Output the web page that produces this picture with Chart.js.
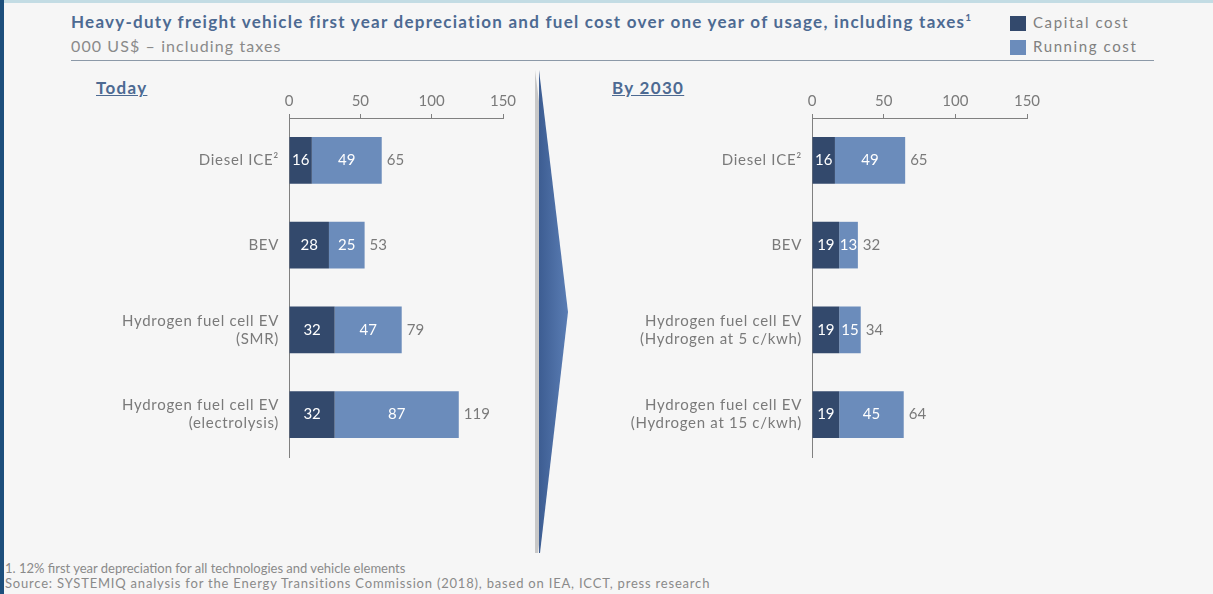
<!DOCTYPE html>
<html>
<head>
<meta charset="utf-8">
<script src="https://cdn.jsdelivr.net/npm/chart.js@4.4.1/dist/chart.umd.min.js"></script>
<style>
  html, body { margin: 0; padding: 0; }
  body {
    width: 1213px; height: 594px; position: relative; overflow: hidden;
    background: #f6f6f6; font-family: "Lato", sans-serif;
  }
  .topbar { position: absolute; left: 0; top: 0; width: 1213px; height: 3px; background: #c3dce4; }
  .leftbar { position: absolute; left: 0; top: 0; width: 4px; height: 594px; background: #1d4f7c; }
  .title { position: absolute; left: 71px; top: 11px; font-size: 17px; font-weight: bold; color: #4d6a92; white-space: nowrap; letter-spacing: 1.25px; }
  .title sup { font-size: 10px; letter-spacing: 0; }
  .subtitle { position: absolute; left: 71px; top: 36px; font-size: 16px; color: #8a8a8a; letter-spacing: 1.1px; }
  .rule { position: absolute; left: 71px; top: 60px; width: 1083px; height: 0; border-top: 1.5px solid #8c99a8; }
  .legend { position: absolute; left: 1010px; font-size: 15px; color: #808080; letter-spacing: 1.6px; white-space: nowrap; }
  .legend i { display: inline-block; width: 16px; height: 15px; vertical-align: -3px; margin-right: 7px; }
  .panel { position: absolute; font-size: 17px; font-weight: bold; color: #4d6a92; text-decoration: underline; letter-spacing: 1.3px; }
  .note { position: absolute; left: 5px; font-size: 13px; color: #8a8a8a; white-space: nowrap; }
  .box { position: absolute; }
</style>
</head>
<body>
<div class="topbar"></div>
<div class="leftbar"></div>
<div class="title">Heavy-duty freight vehicle first year depreciation and fuel cost over one year of usage, including taxes<sup>1</sup></div>
<div class="subtitle">000 US$ – including taxes</div>
<div class="rule"></div>
<div class="legend" style="top:13px"><i style="background:#33496c"></i>Capital cost</div>
<div class="legend" style="top:37px"><i style="background:#6b8cbb"></i>Running cost</div>
<div class="panel" style="left:96px;top:77px">Today</div>
<div class="panel" style="left:612px;top:77px">By 2030</div>

<svg style="position:absolute;left:0;top:0" width="1213" height="594">
  <defs>
    <linearGradient id="arr" x1="0" y1="0" x2="1" y2="0">
      <stop offset="0" stop-color="#3d5d92"/>
      <stop offset="1" stop-color="#5a7db4"/>
    </linearGradient>
  </defs>
  <polygon points="537,70 568,312 540,553 537,553" fill="#c8c8c8" transform="translate(-2,0)"/>
  <polygon points="539,70 568,312 540,553 539,553" fill="url(#arr)"/>
</svg>

<div class="box" style="left:80px;top:86px"><canvas id="today" width="460" height="390"></canvas></div>
<div class="box" style="left:600px;top:86px"><canvas id="future" width="460" height="390"></canvas></div>

<div class="note" style="top:560px">1. 12% first year depreciation for all technologies and vehicle elements</div>
<div class="note" style="top:575px;letter-spacing:0.8px">Source: SYSTEMIQ analysis for the Energy Transitions Commission  (2018), based on IEA, ICCT, press research</div>

<script>
const todayLabels = [
  "Diesel ICE²",
  "BEV",
  ["Hydrogen fuel cell EV", "(SMR)"],
  ["Hydrogen fuel cell EV", "(electrolysis)"]
];
const todayCapital = [16, 28, 32, 32];
const todayRunning = [49, 25, 47, 87];

const futureLabels = [
  "Diesel ICE²",
  "BEV",
  ["Hydrogen fuel cell EV", "(Hydrogen at 5 c/kwh)"],
  ["Hydrogen fuel cell EV", "(Hydrogen at 15 c/kwh)"]
];
const futureCapital = [16, 19, 19, 19];
const futureRunning = [49, 13, 15, 45];

const xTicks = [0, 50, 100, 150];

const capitalColor = "#33496c";
const runningColor = "#6b8cbb";
const grey = "#7a7a7a";
const font = "Lato";

// values inside the bars and totals at the end
const barLabels = {
  id: "barLabels",
  beforeDraw(chart) {
    chart.ctx.letterSpacing = "0px";
  },
  afterDatasetsDraw(chart) {
    const ctx = chart.ctx;
    ctx.save();
    ctx.font = "15px " + font;
    ctx.textBaseline = "middle";
    chart.data.datasets.forEach((ds, i) => {
      const meta = chart.getDatasetMeta(i);
      meta.data.forEach((bar, j) => {
        ctx.fillStyle = "#ffffff";
        ctx.textAlign = "center";
        ctx.fillText(ds.data[j], (bar.x + bar.base) / 2, bar.y);
        if (i === chart.data.datasets.length - 1) {
          const total = chart.data.datasets.reduce((s, d) => s + d.data[j], 0);
          ctx.fillStyle = grey;
          ctx.textAlign = "left";
          ctx.fillText(total, bar.x + 5, bar.y);
        }
      });
    });
    ctx.restore();
    // category labels (drawn next, ticks z: 1) are wider spaced
    ctx.letterSpacing = "0.7px";
  },
  afterDraw(chart) {
    chart.ctx.letterSpacing = "0px";
  }
};

function makeChart(id, labels, capital, running, yWidth, rightPad) {
  return new Chart(document.getElementById(id), {
    type: "bar",
    data: {
      labels: labels,
      datasets: [
        { label: "Capital cost", data: capital, backgroundColor: capitalColor },
        { label: "Running cost", data: running, backgroundColor: runningColor }
      ]
    },
    options: {
      indexAxis: "y",
      responsive: false,
      animation: false,
      layout: { padding: { right: rightPad, bottom: 12 } },
      datasets: { bar: { categoryPercentage: 1, barPercentage: 0.55 } },
      scales: {
        x: {
          position: "top",
          stacked: true,
          min: 0,
          max: 150,
          afterBuildTicks: (s) => { s.ticks = xTicks.map(v => ({ value: v })); },
          afterFit: (s) => { s.height = 32; },
          grid: { display: true, drawOnChartArea: false, tickLength: 4, color: "#808080" },
          border: { display: true, color: "#808080", width: 1 },
          ticks: { color: grey, font: { family: font, size: 15 }, padding: 4 }
        },
        y: {
          stacked: true,
          afterFit: (s) => { s.width = yWidth; },
          grid: { display: false, drawTicks: false },
          border: { display: true, color: "#808080", width: 1 },
          ticks: { z: 1, color: grey, font: { family: font, size: 15, lineHeight: 1.2 }, padding: 10 }
        }
      },
      plugins: {
        legend: { display: false },
        tooltip: { enabled: false }
      }
    },
    plugins: [barLabels]
  });
}

makeChart("today", todayLabels, todayCapital, todayRunning, 209, 37);
makeChart("future", futureLabels, futureCapital, futureRunning, 212, 33);
</script>
</body>
</html>
